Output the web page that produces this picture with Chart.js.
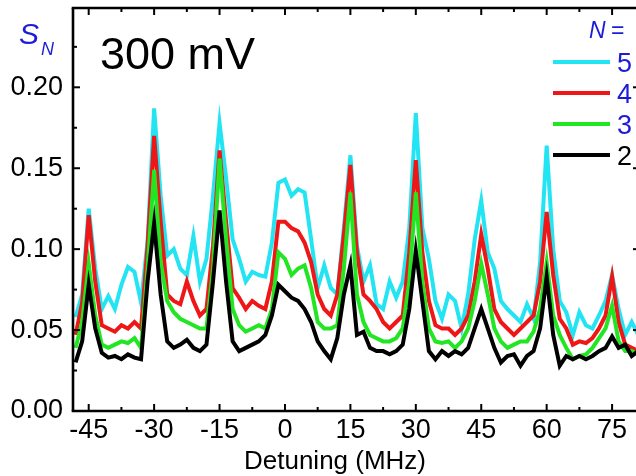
<!DOCTYPE html>
<html><head><meta charset="utf-8">
<script src="https://cdn.jsdelivr.net/npm/chart.js@4"></script>
<style>
html,body{margin:0;padding:0;overflow:hidden;background:#fff;width:636px;height:476px}
#wrap{width:660px;height:476px;position:relative}
</style></head>
<body><div id="wrap"><canvas id="c" width="660" height="476"></canvas></div>
<script>
// Detuning (MHz)
const detuning = [-48,-46.5,-45,-43.5,-42,-40.5,-39,-37.5,-36,-34.5,-33,-31.5,-30,-28.5,-27,-25.5,-24,-22.5,-21,-19.5,-18,-16.5,-15,-13.5,-12,-10.5,-9,-7.5,-6,-4.5,-3,-1.5,0,1.5,3,4.5,6,7.5,9,10.5,12,13.5,15,16.5,18,19.5,21,22.5,24,25.5,27,28.5,30,31.5,33,34.5,36,37.5,39,40.5,42,43.5,45,46.5,48,49.5,51,52.5,54,55.5,57,58.5,60,61.5,63,64.5,66,67.5,69,70.5,72,73.5,75,76.5,78,79.5,81];
// S_N for N = 5 (cyan)
const sN5 = [0.058,0.072,0.125,0.088,0.063,0.071,0.063,0.078,0.089,0.086,0.067,0.105,0.187,0.133,0.096,0.100,0.088,0.084,0.108,0.080,0.094,0.133,0.178,0.144,0.106,0.094,0.080,0.086,0.084,0.083,0.104,0.141,0.143,0.133,0.137,0.135,0.106,0.076,0.090,0.076,0.072,0.113,0.158,0.102,0.080,0.090,0.066,0.063,0.080,0.070,0.080,0.113,0.184,0.113,0.094,0.068,0.057,0.072,0.068,0.051,0.072,0.106,0.130,0.098,0.088,0.068,0.063,0.059,0.055,0.066,0.057,0.092,0.164,0.100,0.068,0.061,0.047,0.061,0.053,0.051,0.059,0.068,0.084,0.063,0.047,0.055,0.047];
// N = 4 (red)
const sN4 = [0.047,0.067,0.121,0.080,0.053,0.051,0.049,0.053,0.051,0.055,0.051,0.102,0.170,0.117,0.072,0.068,0.066,0.080,0.068,0.059,0.063,0.102,0.161,0.117,0.076,0.070,0.063,0.068,0.065,0.063,0.080,0.117,0.117,0.113,0.111,0.104,0.092,0.072,0.063,0.059,0.072,0.109,0.152,0.098,0.072,0.068,0.063,0.055,0.051,0.055,0.059,0.098,0.155,0.098,0.068,0.053,0.051,0.051,0.047,0.051,0.059,0.080,0.109,0.088,0.063,0.055,0.051,0.047,0.051,0.055,0.059,0.080,0.123,0.084,0.057,0.051,0.041,0.043,0.042,0.045,0.051,0.059,0.083,0.055,0.041,0.039,0.037];
// N = 3 (green)
const sN3 = [0.039,0.055,0.091,0.059,0.041,0.039,0.041,0.043,0.042,0.045,0.039,0.088,0.149,0.092,0.068,0.061,0.057,0.055,0.053,0.051,0.051,0.088,0.156,0.106,0.063,0.053,0.049,0.051,0.053,0.051,0.063,0.098,0.094,0.084,0.088,0.090,0.076,0.055,0.051,0.051,0.053,0.088,0.135,0.072,0.055,0.047,0.045,0.043,0.043,0.045,0.051,0.080,0.135,0.080,0.051,0.043,0.042,0.043,0.039,0.043,0.051,0.068,0.091,0.072,0.051,0.043,0.039,0.041,0.043,0.043,0.049,0.063,0.092,0.059,0.047,0.039,0.032,0.034,0.035,0.039,0.045,0.051,0.065,0.043,0.037,0.037,0.035];
// N = 2 (black)
const sN2 = [0.030,0.043,0.078,0.051,0.036,0.033,0.034,0.032,0.035,0.033,0.032,0.080,0.116,0.072,0.043,0.039,0.041,0.044,0.039,0.037,0.041,0.080,0.124,0.080,0.043,0.037,0.039,0.041,0.043,0.047,0.059,0.078,0.074,0.070,0.068,0.063,0.055,0.043,0.037,0.032,0.045,0.072,0.090,0.047,0.049,0.039,0.037,0.037,0.035,0.037,0.041,0.063,0.099,0.068,0.037,0.032,0.037,0.034,0.037,0.035,0.039,0.051,0.063,0.051,0.039,0.030,0.034,0.035,0.028,0.034,0.037,0.051,0.083,0.047,0.028,0.034,0.032,0.034,0.032,0.034,0.037,0.039,0.046,0.039,0.041,0.034,0.037];

const xMajorTicks = [-45,-30,-15,0,15,30,45,60,75];
const xMinorTicks = [-37.5,-22.5,-7.5,7.5,22.5,37.5,52.5,67.5];
const yMajorTicks = [0,0.05,0.10,0.15,0.20];
const yMinorTicks = [0.025,0.075,0.125,0.175,0.225];
const legendNames = ['5','4','3','2'];
const seriesColors = ['#22e4f2','#ee1616','#22e622','#000000'];

const FONT = "'Liberation Sans', Arial, Helvetica, sans-serif";
const BLUE = '#1c1cd8';
const mk = ys => detuning.map((x,i)=>({x:x, y:ys[i]}));
const series = [sN5, sN4, sN3, sN2];

function noPad(s){ s.paddingTop = 0; s.paddingBottom = 0; s.paddingLeft = 0; s.paddingRight = 0; }

const decor = {
  id:'decor',
  afterDraw(chart){
    const ctx = chart.ctx;
    const xs = chart.scales.x, ys = chart.scales.y;
    const left = xs.left, right = xs.right, top = ys.top, bottom = ys.bottom;
    ctx.save();
    ctx.strokeStyle = '#000';
    ctx.lineCap = 'butt';
    const line = (x1,y1,x2,y2)=>{ctx.beginPath();ctx.moveTo(x1,y1);ctx.lineTo(x2,y2);ctx.stroke();};
    ctx.lineWidth = 2.6;
    line(left-1.3, bottom, right+1.3, bottom);
    line(left-1.3, top, right+1.3, top);
    line(left, top, left, bottom);
    line(right, top, right, bottom);
    ctx.lineWidth = 2;
    xMajorTicks.forEach(v=>{const p=xs.getPixelForValue(v); line(p,bottom,p,bottom-7); line(p,top,p,top+7);});
    xMinorTicks.forEach(v=>{const p=xs.getPixelForValue(v); line(p,bottom,p,bottom-4); line(p,top,p,top+4);});
    yMajorTicks.forEach(v=>{const p=ys.getPixelForValue(v); line(left,p,left+7,p); line(right,p,right-7,p);});
    yMinorTicks.forEach(v=>{const p=ys.getPixelForValue(v); line(left,p,left+4,p); line(right,p,right-4,p);});

    // corner labels
    ctx.fillStyle = '#000';
    ctx.textBaseline = 'alphabetic';
    ctx.textAlign = 'left';
    ctx.font = '45px ' + FONT;
    ctx.fillText('300 mV', 100, 69);
    ctx.fillStyle = BLUE;
    ctx.font = 'italic 30px ' + FONT;
    ctx.fillText('S', 19, 44);
    ctx.font = 'italic 18px ' + FONT;
    ctx.fillText('N', 41, 55);

    // x title
    ctx.fillStyle = '#000';
    ctx.textAlign = 'center';
    ctx.font = '26px ' + FONT;
    ctx.fillText('Detuning (MHz)', 335, 469);

    // legend
    ctx.textAlign = 'left';
    ctx.fillStyle = BLUE;
    ctx.font = 'italic 23px ' + FONT;
    ctx.fillText('N', 589, 38);
    ctx.font = '23px ' + FONT;
    ctx.fillText('=', 611, 38);
    const ly = [62,93,124,155];
    legendNames.forEach((n,i)=>{
      ctx.strokeStyle = seriesColors[i];
      ctx.lineWidth = 4;
      line(553, ly[i], 610, ly[i]);
      ctx.fillStyle = i===3 ? '#000' : BLUE;
      ctx.font = '27px ' + FONT;
      ctx.fillText(n, 617, ly[i]+10);
    });
    ctx.restore();
  }
};

const ds = [3,2,1,0].map(i=>({
  label: 'N = ' + legendNames[i],
  data: mk(series[i]),
  borderColor: seriesColors[i],
  borderWidth: 4,
  pointRadius: 0,
  tension: 0,
  fill: false
}));

new Chart(document.getElementById('c'), {
  type: 'line',
  data: { datasets: ds },
  options: {
    responsive: false,
    animation: false,
    devicePixelRatio: 1,
    layout: { padding: { left: 0, right: 20, top: 8, bottom: 0 } },
    plugins: { legend: { display: false }, tooltip: { enabled: false }, title: { display: false } },
    scales: {
      x: {
        type: 'linear', min: -48.6, max: 81.4,
        afterFit(s){ s.height = 65; noPad(s); },
        afterBuildTicks(s){ s.ticks = xMajorTicks.map(v=>({value:v})); },
        ticks: { font: { family: FONT, size: 27 }, color: '#000', padding: 3, maxRotation: 0, autoSkip: false, callback: v => String(v) },
        grid: { display: false, drawTicks: false },
        border: { display: false }
      },
      y: {
        min: 0, max: 0.249,
        afterFit(s){ s.width = 73; noPad(s); },
        afterBuildTicks(s){ s.ticks = yMajorTicks.map(v=>({value:v})); },
        ticks: { font: { family: FONT, size: 27 }, color: '#000', padding: 10, callback: v => Number(v).toFixed(2) },
        grid: { display: false, drawTicks: false },
        border: { display: false }
      }
    }
  },
  plugins: [decor]
});
</script>
</body></html>
